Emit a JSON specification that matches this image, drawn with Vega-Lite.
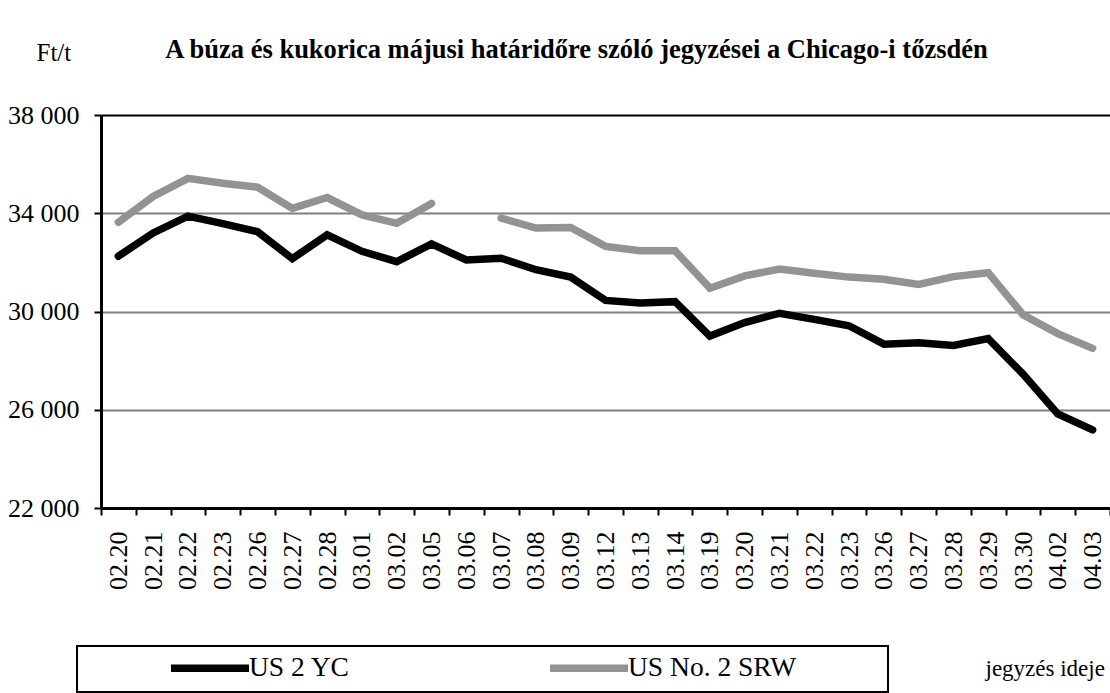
{
  "$schema": "https://vega.github.io/schema/vega-lite/v6.json",
  "autosize": {"type": "none"},
  "width": 1009,
  "height": 393,
  "padding": {"left": 101, "top": 115, "right": 0, "bottom": 185},
  "background": "white",
  "config": {
    "view": {"stroke": null},
    "font": "Liberation Serif",
    "legend": {"strokeWidth": 2}
  },
  "title": {
    "text": "A búza és kukorica májusi határidőre szóló jegyzései a Chicago-i tőzsdén",
    "font": "Liberation Serif",
    "fontSize": 26.5,
    "fontWeight": "bold",
    "color": "black",
    "anchor": "middle",
    "frame": "group",
    "baseline": "alphabetic",
    "dx": -29,
    "offset": -44
  },
  "data": {
    "values": [
      {"d": "02.20", "s": "US 2 YC", "v": 32250},
      {"d": "02.21", "s": "US 2 YC", "v": 33200},
      {"d": "02.22", "s": "US 2 YC", "v": 33880},
      {"d": "02.23", "s": "US 2 YC", "v": 33580},
      {"d": "02.26", "s": "US 2 YC", "v": 33250},
      {"d": "02.27", "s": "US 2 YC", "v": 32150},
      {"d": "02.28", "s": "US 2 YC", "v": 33120},
      {"d": "03.01", "s": "US 2 YC", "v": 32450},
      {"d": "03.02", "s": "US 2 YC", "v": 32030},
      {"d": "03.05", "s": "US 2 YC", "v": 32750},
      {"d": "03.06", "s": "US 2 YC", "v": 32100},
      {"d": "03.07", "s": "US 2 YC", "v": 32170},
      {"d": "03.08", "s": "US 2 YC", "v": 31700},
      {"d": "03.09", "s": "US 2 YC", "v": 31400},
      {"d": "03.12", "s": "US 2 YC", "v": 30450},
      {"d": "03.13", "s": "US 2 YC", "v": 30350},
      {"d": "03.14", "s": "US 2 YC", "v": 30400},
      {"d": "03.19", "s": "US 2 YC", "v": 29000},
      {"d": "03.20", "s": "US 2 YC", "v": 29550},
      {"d": "03.21", "s": "US 2 YC", "v": 29930},
      {"d": "03.22", "s": "US 2 YC", "v": 29680},
      {"d": "03.23", "s": "US 2 YC", "v": 29420},
      {"d": "03.26", "s": "US 2 YC", "v": 28670},
      {"d": "03.27", "s": "US 2 YC", "v": 28730},
      {"d": "03.28", "s": "US 2 YC", "v": 28620},
      {"d": "03.29", "s": "US 2 YC", "v": 28900},
      {"d": "03.30", "s": "US 2 YC", "v": 27450},
      {"d": "04.02", "s": "US 2 YC", "v": 25830},
      {"d": "04.03", "s": "US 2 YC", "v": 25180},
      {"d": "02.20", "s": "US No. 2 SRW", "v": 33630},
      {"d": "02.21", "s": "US No. 2 SRW", "v": 34680},
      {"d": "02.22", "s": "US No. 2 SRW", "v": 35420},
      {"d": "02.23", "s": "US No. 2 SRW", "v": 35220},
      {"d": "02.26", "s": "US No. 2 SRW", "v": 35060},
      {"d": "02.27", "s": "US No. 2 SRW", "v": 34200},
      {"d": "02.28", "s": "US No. 2 SRW", "v": 34640},
      {"d": "03.01", "s": "US No. 2 SRW", "v": 33930},
      {"d": "03.02", "s": "US No. 2 SRW", "v": 33590},
      {"d": "03.05", "s": "US No. 2 SRW", "v": 34400},
      {"d": "03.06", "s": "US No. 2 SRW", "v": null},
      {"d": "03.07", "s": "US No. 2 SRW", "v": 33800},
      {"d": "03.08", "s": "US No. 2 SRW", "v": 33400},
      {"d": "03.09", "s": "US No. 2 SRW", "v": 33420},
      {"d": "03.12", "s": "US No. 2 SRW", "v": 32650},
      {"d": "03.13", "s": "US No. 2 SRW", "v": 32470},
      {"d": "03.14", "s": "US No. 2 SRW", "v": 32470},
      {"d": "03.19", "s": "US No. 2 SRW", "v": 30950},
      {"d": "03.20", "s": "US No. 2 SRW", "v": 31450},
      {"d": "03.21", "s": "US No. 2 SRW", "v": 31730},
      {"d": "03.22", "s": "US No. 2 SRW", "v": 31560},
      {"d": "03.23", "s": "US No. 2 SRW", "v": 31400},
      {"d": "03.26", "s": "US No. 2 SRW", "v": 31310},
      {"d": "03.27", "s": "US No. 2 SRW", "v": 31100},
      {"d": "03.28", "s": "US No. 2 SRW", "v": 31420},
      {"d": "03.29", "s": "US No. 2 SRW", "v": 31580},
      {"d": "03.30", "s": "US No. 2 SRW", "v": 29870},
      {"d": "04.02", "s": "US No. 2 SRW", "v": 29100},
      {"d": "04.03", "s": "US No. 2 SRW", "v": 28500}
    ]
  },
  "mark": {"type": "line", "strokeWidth": 7.5, "strokeCap": "round", "invalid": "break-paths-show-domains"},
  "encoding": {
    "x": {
      "field": "d",
      "type": "ordinal",
      "sort": null,
      "bandPosition": 0.5,
      "scale": {"type": "band", "paddingInner": 0, "paddingOuter": 0},
      "axis": {
        "orient": "bottom",
        "tickBand": "extent",
        "labelAngle": -90,
        "labelAlign": "right",
        "labelBaseline": "middle",
        "labelPadding": 16,
        "labelFont": "Liberation Serif",
        "labelFontSize": 26,
        "labelColor": "black",
        "tickSize": 7,
        "tickWidth": 2,
        "tickColor": "black",
        "domainWidth": 3,
        "domainColor": "black",
        "grid": false,
        "title": "jegyzés ideje",
        "titleFont": "Liberation Serif",
        "titleFontSize": 23,
        "titleFontWeight": "normal",
        "titleColor": "black",
        "titleAlign": "left",
        "titleBaseline": "alphabetic",
        "titleAngle": 0,
        "titleX": 884,
        "titleY": 167
      }
    },
    "y": {
      "field": "v",
      "type": "quantitative",
      "scale": {"domain": [22000, 38000], "nice": false, "zero": false},
      "axis": {
        "values": [22000, 26000, 30000, 34000, 38000],
        "labelExpr": "replace(format(datum.value, ','), ',', ' ')",
        "labelFont": "Liberation Serif",
        "labelFontSize": 26,
        "labelColor": "black",
        "labelPadding": 15,
        "tickSize": 7,
        "tickWidth": 2,
        "tickColor": "black",
        "domainWidth": 3,
        "domainColor": "black",
        "grid": true,
        "gridColor": {"condition": {"test": "datum.value == 38000", "value": "black"}, "value": "#808080"},
        "gridWidth": 2,
        "title": "Ft/t",
        "titleFont": "Liberation Serif",
        "titleFontSize": 25,
        "titleFontWeight": "normal",
        "titleColor": "black",
        "titleAngle": 0,
        "titleAlign": "left",
        "titleBaseline": "alphabetic",
        "titleX": -65,
        "titleY": -55
      }
    },
    "color": {
      "field": "s",
      "type": "nominal",
      "scale": {"domain": ["US 2 YC", "US No. 2 SRW"], "range": ["black", "#939393"]},
      "legend": {
        "orient": "none",
        "legendX": -24,
        "legendY": 531,
        "direction": "horizontal",
        "columns": 2,
        "title": " ",
        "titleOrient": "right",
        "titlePadding": 82,
        "padding": 10,
        "strokeColor": "black",
        "fillColor": "white",
        "clipHeight": 24,
        "symbolType": "stroke",
        "symbolSize": 6084,
        "symbolStrokeWidth": 7.5,
        "symbolOffset": 80,
        "labelOffset": -4,
        "columnPadding": 116,
        "labelFont": "Liberation Serif",
        "labelFontSize": 27.5,
        "labelColor": "black",
        "labelLimit": 0
      }
    }
  }
}
